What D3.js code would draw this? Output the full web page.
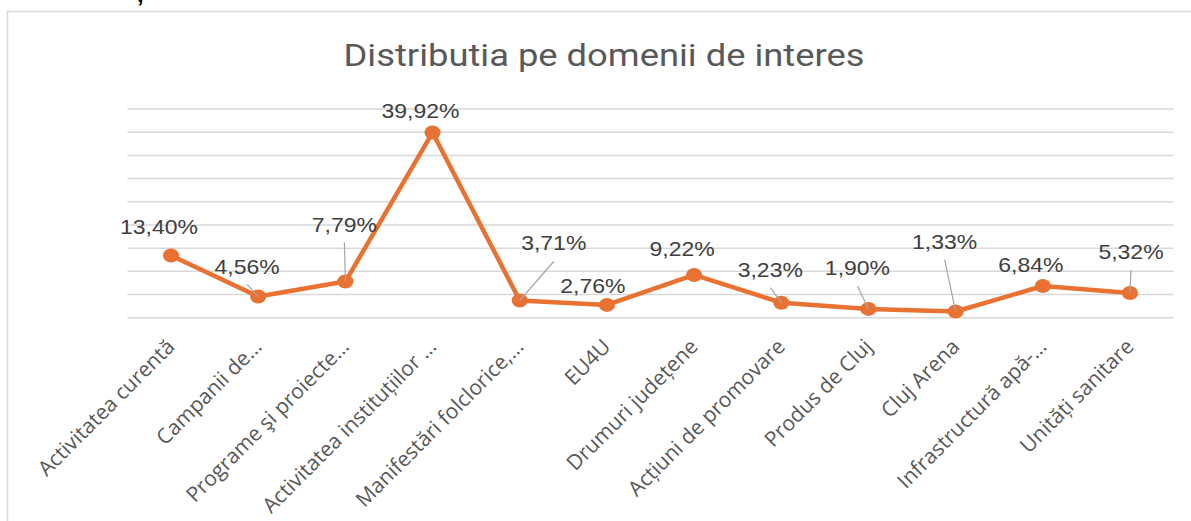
<!DOCTYPE html>
<html>
<head>
<meta charset="utf-8">
<script src="https://cdn.jsdelivr.net/npm/d3@7"></script>
<style>
  html, body { margin: 0; padding: 0; background: #fff; }
  svg { display: block; }
</style>
</head>
<body>
<div id="chart"></div>
<script>
// category labels as shown on the axis (truncated like the original)
const categories = [
  "Activitatea curentă",
  "Campanii de…",
  "Programe şi proiecte…",
  "Activitatea instituțiilor …",
  "Manifestări folclorice,…",
  "EU4U",
  "Drumuri județene",
  "Acțiuni de promovare",
  "Produs de Cluj",
  "Cluj Arena",
  "Infrastructură apă-…",
  "Unități sanitare"
];
const values = [13.40, 4.56, 7.79, 39.92, 3.71, 2.76, 9.22, 3.23, 1.90, 1.33, 6.84, 5.32];
const yTicks = [0, 5, 10, 15, 20, 25, 30, 35, 40, 45];

// where each data label sits relative to its point: [dx, dy, leader line?]
const labelNudge = [
  [-12, -22, false], [-11, -23, true], [-1, -50, true], [-12, -15, false],
  [34, -50, true], [-14, -12, false], [-12, -19, false], [-11, -26, true],
  [-11, -34, true], [-11, -63, true], [-12, -14, false], [1, -34, true]
];

const width = 1191;
const height = 521;
const sx = 1.15; // the original picture is stretched horizontally
const orange = "#E97132";

const svg = d3.select("#chart").append("svg")
  .attr("width", width)
  .attr("height", height);

// chart area frame
svg.append("path")
  .attr("d", `M7.5,${height + 5}V11.5H${width + 5}`)
  .attr("fill", "none")
  .attr("stroke", "#d9d9d9")
  .attr("stroke-width", 1.5);

// stray comma from the document above the chart
svg.append("text")
  .attr("x", 137).attr("y", 2)
  .attr("font-family", "Liberation Sans, Arial, sans-serif")
  .attr("font-size", 24)
  .attr("font-weight", "bold")
  .attr("fill", "#000")
  .text(",");

svg.append("text")
  .attr("transform", `translate(604,66) scale(${sx},1)`)
  .attr("text-anchor", "middle")
  .attr("font-family", "Roboto, sans-serif")
  .attr("font-size", 31.6)
  .attr("fill", "#595959")
  .text("Distributia pe domenii de interes");

const x = d3.scalePoint()
  .domain(categories)
  .range([127.4, 1173.6])
  .padding(0.5);

const y = d3.scaleLinear()
  .domain([0, 45])
  .range([317.7, 109]);

// gridlines
svg.append("g")
  .selectAll("line")
  .data(yTicks)
  .join("line")
  .attr("x1", 127.4)
  .attr("x2", 1173.6)
  .attr("y1", d => y(d))
  .attr("y2", d => y(d))
  .attr("stroke", "#d9d9d9")
  .attr("stroke-width", 1.5);

// category labels, rotated
svg.append("g")
  .selectAll("text")
  .data(categories)
  .join("text")
  .attr("transform", d => `translate(${x(d) + 5},348) rotate(-45)`)
  .attr("text-anchor", "end")
  .attr("font-family", "Open Sans, sans-serif")
  .attr("font-size", 21)
  .attr("fill", "#595959")
  .text(d => d);

const pts = categories.map((c, i) => ({ c, v: values[i], n: labelNudge[i] }));

const line = d3.line()
  .x(d => x(d.c))
  .y(d => y(d.v));

svg.append("path")
  .datum(pts)
  .attr("d", line)
  .attr("fill", "none")
  .attr("stroke", orange)
  .attr("stroke-width", 4.5)
  .attr("stroke-linejoin", "round");

svg.append("g")
  .selectAll("ellipse")
  .data(pts)
  .join("ellipse")
  .attr("cx", d => x(d.c))
  .attr("cy", d => y(d.v))
  .attr("rx", 7 * sx)
  .attr("ry", 7)
  .attr("fill", orange);

// leader lines
svg.append("g")
  .selectAll("line")
  .data(pts.filter(d => d.n[2]))
  .join("line")
  .attr("x1", d => x(d.c) + d.n[0])
  .attr("y1", d => y(d.v) + d.n[1] + 11)
  .attr("x2", d => x(d.c))
  .attr("y2", d => y(d.v))
  .attr("stroke", "#a6a6a6")
  .attr("stroke-width", 1.2);

const ro = d3.formatLocale({ decimal: ",", thousands: ".", grouping: [3], currency: ["", " lei"] });
const fmt = ro.format(".2f");

svg.append("g")
  .selectAll("text")
  .data(pts)
  .join("text")
  .attr("transform", d => `translate(${x(d.c) + d.n[0]},${y(d.v) + d.n[1]}) scale(${sx},1)`)
  .attr("text-anchor", "middle")
  .attr("font-family", "Liberation Sans, Arial, sans-serif")
  .attr("font-size", 20)
  .attr("fill", "#404040")
  .text(d => fmt(d.v) + "%");
</script>
</body>
</html>
